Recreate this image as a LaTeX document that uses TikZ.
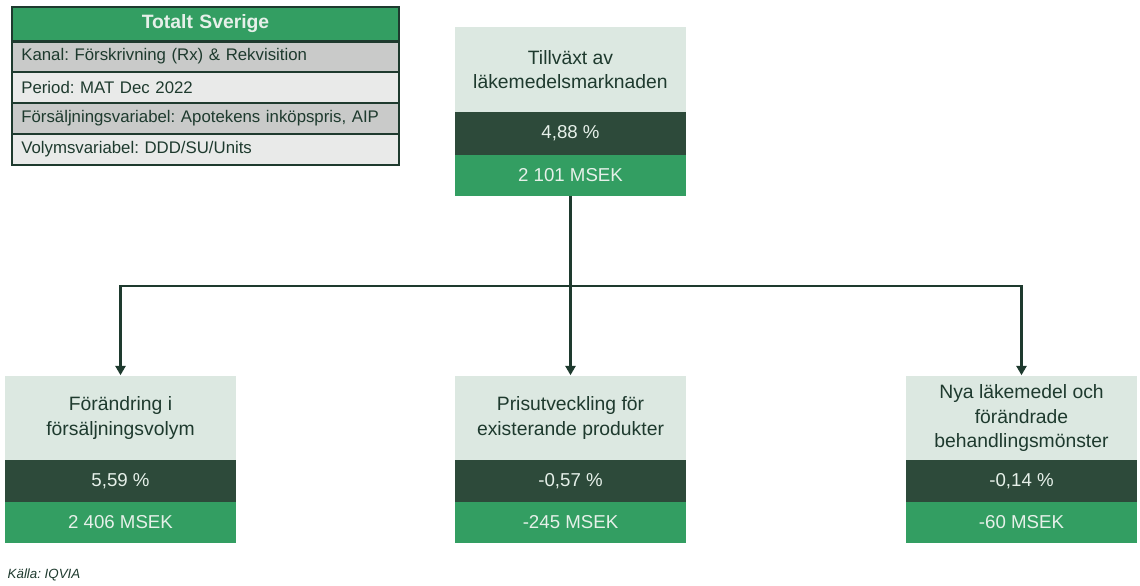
\documentclass[tikz,border=0pt]{standalone}
\usepackage{fontspec}
\setmainfont{Liberation Sans}
\usetikzlibrary{arrows.meta}
\frenchspacing
\definecolor{lightgreen}{HTML}{DCE8E1}
\definecolor{darkgreen}{HTML}{2D4A3A}
\definecolor{midgreen}{HTML}{339E62}
\definecolor{inkgreen}{HTML}{1E3A2E}
\definecolor{paletext}{HTML}{E6F0E9}
\definecolor{rowgrey}{HTML}{C9CAC9}
\definecolor{rowlight}{HTML}{E9EAE9}
\tikzstyle{factor}=[rectangle, fill=lightgreen, text=inkgreen, minimum width=173.25pt, minimum height=63.75pt, inner sep=0pt, align=center, font=\fontsize{14.5}{18.5}\selectfont]
\tikzstyle{share}=[rectangle, fill=darkgreen, text=paletext, minimum width=173.25pt, minimum height=32.25pt, inner sep=0pt, font=\fontsize{14}{17}\selectfont]
\tikzstyle{msek}=[rectangle, fill=midgreen, text=paletext, minimum width=173.25pt, minimum height=30.75pt, inner sep=0pt, font=\fontsize{14}{17}\selectfont]
\tikzstyle{legendrow}=[rectangle, draw=inkgreen, line width=1.1pt, minimum height=23.25pt, text width=276.25pt, inner xsep=7pt, inner ysep=0pt, align=left, text=inkgreen, font=\fontsize{12.6}{15}\selectfont]
\tikzstyle{link}=[draw=inkgreen, line width=1.9pt]

\begin{document}
\begin{tikzpicture}[x=0.75pt, y=-0.75pt]
                    \useasboundingbox (0,0) rectangle (1140,586);
                    \node[legendrow, fill=midgreen, text=paletext, align=center, minimum height=25.5pt, font=\fontsize{14.5}{17}\selectfont\bfseries] (lh) at (205.5, 24) {Totalt Sverige};
                    \node[legendrow, fill=rowgrey]  (l1) at (205.5, 56.5)  {Kanal: Förskrivning (Rx) \& Rekvisition};
                    \node[legendrow, fill=rowlight] (l2) at (205.5, 87.5)  {Period: MAT Dec 2022};
                    \node[legendrow, fill=rowgrey]  (l3) at (205.5, 118.5) {Försäljningsvariabel: Apotekens inköpspris, AIP};
                    \node[legendrow, fill=rowlight] (l4) at (205.5, 149.5) {Volymsvariabel: DDD/SU/Units};
                    \draw[inkgreen, line width=2pt] (lh.south west) -- (lh.south east);
                    \node[factor] (t0) at (570.5, 69.5) {Tillväxt av\\läkemedelsmarknaden};
                    \node[share]  (p0) at (570.5, 133)  {4,88 \%};
                    \node[msek]   (m0) at (570.5, 175)  {2 101 MSEK};
                    \node[factor] (t1) at (120.5,  418) {Förändring i\\försäljningsvolym};
                    \node[share]  (p1) at (120.5,  481) {5,59 \%};
                    \node[msek]   (m1) at (120.5,  522.5) {2 406 MSEK};
                    \node[factor] (t2) at (570.5,  418) {Prisutveckling för\\existerande produkter};
                    \node[share]  (p2) at (570.5,  481) {-0,57 \%};
                    \node[msek]   (m2) at (570.5,  522.5) {-245 MSEK};
                    \node[factor] (t3) at (1021.5, 418) {Nya läkemedel och\\förändrade\\behandlingsmönster};
                    \node[share]  (p3) at (1021.5, 481) {-0,14 \%};
                    \node[msek]   (m3) at (1021.5, 522.5) {-60 MSEK};
                    \coordinate (split) at (570.5, 286);
                    \draw[link] (m0) -- (split);
                    \draw[link, -{Triangle[width=7.5pt, length=7pt]}] (split) -| (t1);
                    \draw[link, -{Triangle[width=7.5pt, length=7pt]}] (split) -- (t2);
                    \draw[link, -{Triangle[width=7.5pt, length=7pt]}] (split) -| (t3);
                    \node[anchor=west, text=inkgreen, font=\fontsize{10}{12}\selectfont\itshape] (src) at (3, 575) {Källa: IQVIA};
                \end{tikzpicture}
\end{document}
